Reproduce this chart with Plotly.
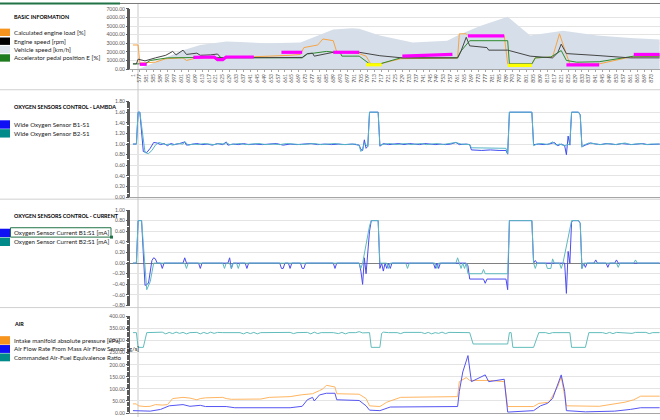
import plotly.graph_objects as go

W, H = 660, 420

# ---------------- axis categories / tick labels ----------------
categories = ["1"] + [str(n) for n in range(574, 879)]
tick_labels = ["1"] + [str(n) for n in range(577, 874, 4)]

# ---------------- BASIC INFORMATION ----------------
speed_x = [1, 576, 580, 593, 602, 612, 627, 635, 651, 670, 680, 689, 700, 704, 716, 735, 755, 761, 774, 784, 790, 803, 822, 842, 861, 878]
speed_y = [0, 0, 300, 1400, 2200, 2800, 3200, 3150, 3000, 3100, 3900, 4600, 4750, 4700, 3900, 3100, 3300, 3900, 5000, 5700, 6100, 3900, 4450, 3900, 3600, 3450]

load_x = [1, 575, 576, 577, 586, 592, 602, 604, 610, 625, 645, 652, 664, 670, 672, 680, 683, 689, 691, 704, 708, 711, 716, 728, 761, 762, 766, 767, 788, 790, 804, 806, 816, 820, 824, 826, 843, 848, 861, 878]
load_y = [2800, 2800, 2800, 700, 800, 1200, 1300, 1000, 1300, 1300, 1400, 1500, 1600, 1700, 2500, 2800, 3500, 3300, 2000, 1800, 1500, 500, 600, 1200, 1300, 4100, 4100, 3900, 3900, 600, 600, 1300, 1400, 4100, 1700, 600, 600, 800, 1400, 1500]

rpm_x = [1, 575, 576, 580, 586, 592, 596, 598, 602, 604, 610, 612, 618, 622, 624, 640, 660, 671, 674, 677, 678, 689, 700, 704, 716, 729, 761, 763, 766, 768, 778, 779, 790, 803, 816, 819, 821, 824, 840, 861, 878]
rpm_y = [600, 600, 1150, 950, 1300, 1600, 2050, 1650, 2200, 1700, 1850, 1600, 1650, 1750, 1300, 1300, 1300, 1350, 1800, 1850, 1500, 1950, 2000, 1950, 1550, 1300, 1300, 2100, 3700, 2700, 2500, 2200, 2200, 1500, 1300, 1900, 2900, 1800, 1600, 1300, 1300]

pedal_x = [1, 576, 580, 583, 593, 612, 640, 671, 674, 685, 693, 694, 704, 710, 716, 728, 761, 763, 768, 790, 791, 804, 806, 815, 821, 824, 830, 843, 863, 878]
pedal_y = [600, 600, 600, 1000, 1300, 1350, 1300, 1300, 1750, 2050, 1900, 1500, 1500, 600, 600, 1300, 1300, 2100, 3300, 3300, 600, 600, 1300, 1400, 2150, 1000, 800, 850, 1500, 1500]

magenta_x = [577, 581, None, 608, 620, 622, 625, 627, 643, None, 659, 671, None, 689, 704, None, 729, 745, 758, None, 767, 788, None, 824, 843, None, 863, 878]
magenta_y = [550, 550, None, 1350, 1400, 1100, 1100, 1400, 1400, None, 1950, 1950, None, 1950, 1950, None, 1500, 1600, 1700, None, 3870, 3870, None, 480, 480, None, 1700, 1700]

yellow_x = [708, 717, None, 790, 804]
yellow_y = [500, 500, None, 420, 420]

# ---------------- LAMBDA ----------------
lam1_x = [1, 575, 576, 577, 579, 581, 583, 585, 587, 589, 591, 593, 595, 597, 600, 603, 604, 607, 610, 613, 616, 619, 622, 625, 627, 628, 631, 634, 637, 640, 644, 648, 652, 656, 660, 664, 668, 672, 676, 680, 684, 688, 692, 696, 700, 704, 705, 706, 707, 708, 709, 710, 715, 716, 718, 721, 724, 727, 730, 733, 736, 739, 742, 745, 748, 751, 754, 757, 760, 762, 766, 768, 769, 775, 780, 785, 789, 790, 791, 804, 805, 808, 811, 814, 817, 819, 821, 823, 824, 825, 826, 827, 831, 832, 833, 835, 838, 841, 844, 847, 850, 853, 856, 859, 862, 865, 868, 871, 874, 878]
lam1_y = [1.0, 1.0, 1.6, 1.6, 0.86, 0.84, 0.92, 1.03, 1.02, 0.99, 1.01, 0.97, 1.01, 0.99, 1.01, 1.04, 0.98, 1.0, 1.01, 0.99, 1.0, 0.98, 1.01, 0.99, 1.04, 0.98, 1.0, 0.99, 1.01, 0.99, 1.0, 0.99, 1.0, 1.01, 0.98, 1.0, 0.99, 1.0, 1.01, 0.99, 1.0, 0.99, 1.0, 0.99, 1.0, 0.98, 0.9, 0.88, 1.08, 0.92, 0.96, 1.6, 1.6, 0.96, 1.01, 0.99, 1.0, 1.01, 0.99, 1.01, 1.0, 0.99, 1.01, 1.0, 0.99, 1.0, 0.99, 1.0, 1.03, 0.99, 1.0, 0.99, 0.89, 0.88, 0.89, 0.88, 0.88, 0.81, 1.6, 1.6, 0.99, 1.0, 0.99, 1.0, 1.03, 0.97, 1.0, 0.97, 0.8, 1.15, 0.98, 1.6, 1.6, 1.55, 0.95, 0.98, 1.02, 1.0, 0.99, 1.01, 1.0, 0.99, 1.01, 1.0, 0.99, 1.0, 1.01, 0.99, 1.0, 1.0]

lam2_x = [1, 575, 576, 577, 580, 582, 584, 586, 588, 590, 592, 594, 596, 599, 602, 603, 605, 608, 611, 614, 617, 620, 623, 626, 627, 629, 632, 635, 638, 642, 646, 650, 654, 658, 662, 666, 670, 674, 678, 682, 686, 690, 694, 698, 702, 704, 705, 706, 707, 709, 710, 715, 716, 719, 722, 725, 728, 731, 734, 737, 740, 743, 746, 749, 752, 755, 758, 760, 763, 767, 768, 769, 775, 780, 785, 789, 790, 791, 804, 805, 807, 810, 813, 816, 818, 820, 823, 826, 827, 831, 832, 833, 834, 837, 840, 843, 846, 849, 852, 855, 858, 861, 864, 867, 870, 873, 878]
lam2_y = [1.0, 1.0, 1.6, 1.6, 0.84, 0.82, 0.88, 0.98, 1.03, 1.01, 0.99, 1.0, 0.98, 1.01, 1.0, 1.05, 0.98, 1.0, 0.99, 1.01, 1.0, 0.99, 1.01, 1.0, 1.03, 0.99, 1.0, 1.01, 0.99, 1.0, 1.01, 0.99, 1.0, 0.99, 1.01, 1.0, 0.99, 1.0, 1.01, 0.99, 1.0, 1.01, 0.99, 1.0, 1.0, 0.97, 0.86, 0.9, 1.02, 0.95, 1.6, 1.6, 0.98, 1.0, 1.01, 0.99, 1.0, 1.01, 0.99, 1.0, 1.01, 0.99, 1.0, 1.01, 0.99, 1.0, 1.01, 1.03, 1.0, 1.0, 0.99, 0.93, 0.93, 0.92, 0.93, 0.92, 0.82, 1.6, 1.6, 0.97, 1.0, 1.01, 0.99, 1.04, 0.98, 1.0, 0.97, 1.0, 1.6, 1.6, 1.55, 0.94, 0.98, 1.02, 1.01, 0.99, 1.0, 1.01, 0.99, 1.0, 1.02, 0.99, 1.0, 1.01, 0.99, 1.0, 1.0]

# ---------------- CURRENT ----------------
cur1_x = [1, 575, 576, 578, 580, 582, 584, 585, 586, 587, 589, 590, 591, 602, 603, 604, 611, 612, 613, 628, 629, 630, 631, 638, 639, 640, 658, 659, 660, 661, 663, 664, 665, 670, 671, 672, 673, 689, 690, 691, 704, 705, 706, 707, 708, 710, 711, 715, 716, 717, 718, 719, 720, 721, 722, 723, 747, 748, 749, 750, 751, 766, 767, 768, 776, 777, 778, 789, 790, 791, 804, 805, 806, 807, 823, 824, 825, 826, 827, 828, 831, 832, 833, 834, 835, 836, 840, 841, 842, 847, 848, 849, 852, 853, 854, 878]
cur1_y = [0, 0, 0.8, 0.8, -0.42, -0.38, 0.05, 0.1, 0.08, 0.0, 0.0, -0.1, 0.0, 0.0, 0.1, 0.0, 0.0, -0.1, 0.0, 0.0, 0.1, -0.1, 0.0, 0.0, -0.1, 0.0, 0.0, -0.1, -0.1, 0.0, 0.0, -0.1, 0.0, 0.0, -0.1, -0.1, 0.0, 0.0, -0.1, 0.0, 0.0, -0.15, -0.4, 0.1, -0.2, 0.6, 0.8, 0.8, -0.1, 0.0, -0.15, 0.0, -0.1, 0.0, -0.1, 0.0, 0.0, -0.1, 0.0, -0.1, 0.0, 0.0, -0.05, -0.3, -0.3, -0.38, -0.3, -0.3, -0.5, 0.8, 0.8, 0.0, 0.05, 0.0, 0.0, -0.57, 0.22, 0.0, 0.78, 0.8, 0.8, 0.75, -0.1, 0.0, -0.08, 0.0, 0.0, 0.06, 0.0, 0.0, -0.08, 0.0, 0.0, 0.06, 0.0, 0.0]

cur2_x = [1, 575, 576, 578, 581, 583, 585, 603, 604, 605, 625, 626, 627, 629, 630, 631, 633, 634, 635, 704, 705, 706, 710, 711, 715, 716, 720, 721, 722, 731, 732, 733, 748, 749, 750, 760, 761, 762, 763, 764, 765, 766, 767, 775, 776, 777, 790, 791, 804, 805, 806, 807, 812, 813, 815, 816, 817, 820, 821, 822, 827, 831, 832, 833, 834, 853, 854, 855, 863, 864, 865, 878]
cur2_y = [0, 0, 0.8, 0.8, -0.5, -0.35, 0.0, 0.0, -0.1, 0.0, 0.0, -0.1, 0.0, 0.0, -0.1, 0.0, 0.0, -0.1, 0.0, 0.0, -0.1, 0.0, 0.7, 0.8, 0.8, 0.0, 0.0, -0.1, 0.0, 0.0, -0.1, 0.0, 0.0, -0.1, 0.0, 0.0, 0.1, 0.0, -0.1, 0.0, -0.1, 0.0, -0.2, -0.2, -0.12, -0.2, -0.2, 0.8, 0.8, 0.0, -0.1, 0.0, 0.0, -0.1, -0.1, 0.08, 0.0, 0.0, -0.1, 0.0, 0.8, 0.8, 0.75, -0.1, 0.0, 0.0, -0.08, 0.0, 0.0, 0.06, 0.0, 0.0]

# ---------------- AIR ----------------
afr_x = [1, 575, 576, 579, 581, 590, 592, 594, 596, 598, 600, 602, 604, 606, 610, 612, 614, 616, 618, 620, 622, 625, 635, 637, 639, 641, 643, 645, 647, 651, 660, 664, 666, 668, 674, 676, 678, 680, 682, 689, 692, 694, 696, 698, 702, 704, 706, 710, 711, 716, 717, 718, 721, 726, 728, 730, 740, 742, 744, 746, 748, 750, 752, 754, 756, 760, 768, 770, 790, 791, 792, 793, 805, 808, 812, 814, 816, 826, 827, 835, 837, 845, 847, 849, 851, 853, 860, 862, 864, 866, 870, 872, 874, 878]
afr_y = [333, 333, 272, 272, 333, 335, 328, 334, 329, 335, 330, 334, 328, 333, 334, 328, 334, 329, 335, 330, 334, 333, 333, 328, 334, 329, 334, 328, 333, 333, 333, 334, 329, 333, 334, 328, 335, 329, 333, 333, 329, 334, 328, 333, 333, 337, 332, 333, 272, 272, 330, 335, 333, 333, 329, 334, 334, 329, 334, 328, 333, 330, 335, 329, 334, 333, 333, 286, 286, 333, 333, 272, 272, 333, 333, 329, 333, 333, 272, 272, 333, 333, 329, 334, 329, 334, 333, 330, 334, 333, 334, 329, 333, 333]

map_x = [1, 575, 576, 580, 583, 586, 590, 593, 596, 602, 606, 610, 612, 615, 625, 627, 630, 647, 652, 664, 671, 677, 681, 683, 685, 690, 691, 704, 708, 710, 716, 720, 728, 761, 762, 766, 768, 780, 788, 790, 805, 808, 814, 819, 821, 823, 824, 843, 849, 858, 863, 867, 878]
map_y = [38, 38, 30, 27, 28, 35, 33, 35, 60, 65, 62, 55, 60, 63, 65, 60, 57, 58, 65, 68, 76, 80, 93, 100, 115, 108, 80, 78, 60, 30, 27, 45, 65, 68, 130, 147, 135, 135, 130, 27, 27, 40, 45, 110, 150, 80, 30, 28, 35, 45, 55, 70, 70]

maf_x = [1, 575, 576, 583, 589, 594, 602, 606, 612, 615, 627, 632, 664, 671, 674, 677, 678, 681, 685, 690, 691, 704, 708, 710, 716, 720, 722, 761, 762, 764, 767, 769, 777, 779, 788, 790, 805, 809, 813, 816, 821, 823, 824, 835, 852, 861, 867, 878]
maf_y = [10, 10, 8, 8, 15, 30, 35, 28, 32, 27, 27, 22, 22, 28, 55, 65, 50, 75, 82, 82, 55, 52, 30, 12, 10, 20, 25, 27, 90, 170, 238, 130, 158, 130, 140, 4, 10, 30, 40, 60, 158, 90, 10, 5, 8, 15, 22, 22]


def cx(xs):
    return [str(v) if v is not None else None for v in xs]


def py(y):
    return 1 - y / H


def px(x):
    return x / W


fig = go.Figure()

# panel 1
fig.add_trace(go.Scatter(x=cx(speed_x), y=speed_y, mode="lines", fill="tozeroy",
                         line=dict(width=0, color="#D6DFE9"), fillcolor="#D6DFE9",
                         xaxis="x", yaxis="y", name="Vehicle speed [km/h]"))
fig.add_trace(go.Scatter(x=cx(load_x), y=load_y, mode="lines", line=dict(width=1, color="#F7A443"),
                         xaxis="x", yaxis="y", name="Calculated engine load [%]"))
fig.add_trace(go.Scatter(x=cx(pedal_x), y=pedal_y, mode="lines", line=dict(width=1, color="#2F8A2F"),
                         xaxis="x", yaxis="y", name="Accelerator pedal position E [%]"))
fig.add_trace(go.Scatter(x=cx(rpm_x), y=rpm_y, mode="lines", line=dict(width=1, color="#454545"),
                         xaxis="x", yaxis="y", name="Engine speed [rpm]"))
fig.add_trace(go.Scatter(x=cx(magenta_x), y=magenta_y, mode="lines", line=dict(width=3.2, color="#FF00FF"),
                         connectgaps=False, xaxis="x", yaxis="y", name="m"))
fig.add_trace(go.Scatter(x=cx(yellow_x), y=yellow_y, mode="lines", line=dict(width=3.2, color="#FFFF00"),
                         connectgaps=False, xaxis="x", yaxis="y", name="yel"))

# panel 2
fig.add_trace(go.Scatter(x=cx(lam1_x), y=lam1_y, mode="lines", line=dict(width=1, color="#3D4BF2"),
                         xaxis="x2", yaxis="y2", name="Wide Oxygen Sensor B1-S1"))
fig.add_trace(go.Scatter(x=cx(lam2_x), y=lam2_y, mode="lines", line=dict(width=1, color="#55B4C4"),
                         xaxis="x2", yaxis="y2", name="Wide Oxygen Sensor B2-S1"))

# panel 3
fig.add_trace(go.Scatter(x=cx(cur1_x), y=cur1_y, mode="lines", line=dict(width=1, color="#4B4BF0"),
                         xaxis="x3", yaxis="y3", name="Oxygen Sensor Current B1:S1 [mA]"))
fig.add_trace(go.Scatter(x=cx(cur2_x), y=cur2_y, mode="lines", line=dict(width=1, color="#5CB9BE"),
                         xaxis="x3", yaxis="y3", name="Oxygen Sensor Current B2:S1 [mA]"))

# panel 4
fig.add_trace(go.Scatter(x=cx(afr_x), y=afr_y, mode="lines", line=dict(width=1, color="#62BCBC"),
                         xaxis="x4", yaxis="y4", name="Commanded Air-Fuel Equivalence Ratio"))
fig.add_trace(go.Scatter(x=cx(map_x), y=map_y, mode="lines", line=dict(width=1, color="#FFB561"),
                         xaxis="x4", yaxis="y4", name="Intake manifold absolute pressure [kPa]"))
fig.add_trace(go.Scatter(x=cx(maf_x), y=maf_y, mode="lines", line=dict(width=1, color="#5555F2"),
                         xaxis="x4", yaxis="y4", name="Air Flow Rate From Mass Air Flow Sensor [g/s]"))

tickfont = dict(family="Lato", size=5, color="#595959")
xdom = [px(130), 1.0]
xrange = [-1.7, 305.2]


def xaxis(anchor, show_labels, showline, matches=None):
    d = dict(type="category", categoryorder="array", categoryarray=categories,
             range=xrange, domain=xdom, anchor=anchor, showgrid=False, zeroline=False,
             showline=showline, linecolor="#A6A6A6", linewidth=1,
             tickmode="array", tickvals=tick_labels, ticktext=tick_labels,
             showticklabels=show_labels, tickangle=-90, tickfont=tickfont,
             ticks="outside" if show_labels else "", ticklen=2, tickcolor="#A6A6A6")
    if matches:
        d["matches"] = matches
    return d


def yaxis(dom, rng, dtick, zeroline=False):
    return dict(domain=dom, range=rng, dtick=dtick, tick0=0, tickformat=".2f",
                showline=True, linecolor="#595959", linewidth=1,
                ticks="outside", ticklen=3, tickcolor="#595959",
                minor=dict(ticks="outside", ticklen=2, tickcolor="#595959", dtick=dtick / 10, showgrid=False),
                showgrid=True, gridcolor="#E4E4E4", gridwidth=1,
                zeroline=zeroline, zerolinecolor="#808080", zerolinewidth=1,
                tickfont=tickfont, fixedrange=True)


layout = dict(
    width=W, height=H, margin=dict(l=0, r=0, t=0, b=0),
    paper_bgcolor="white", plot_bgcolor="rgba(0,0,0,0)", showlegend=False,
    hovermode=False,
    xaxis=xaxis("y", True, True),
    xaxis2=xaxis("y2", False, True, "x"),
    xaxis3=xaxis("y3", False, False, "x"),
    xaxis4=xaxis("y4", False, True, "x"),
    yaxis=yaxis([py(67), py(6)], [0, 7000], 1000),
    yaxis2=yaxis([py(197), py(100)], [0, 1.8], 0.2),
    yaxis3=yaxis([py(307), py(210)], [-0.8, 1.0], 0.2, zeroline=True),
    yaxis4=yaxis([py(416), py(318)], [0, 400], 50),
)
fig.update_layout(**layout)

shapes = []
# sheet cell borders
for yy in [88, 199, 309]:
    shapes.append(dict(type="line", xref="paper", yref="paper", x0=0, x1=1, y0=py(yy), y1=py(yy),
                       line=dict(color="#D0D0D0", width=1), layer="below"))
shapes.append(dict(type="line", xref="paper", yref="paper", x0=px(138), x1=px(138), y0=0, y1=1,
                   line=dict(color="#C8C8C8", width=1), layer="below"))
shapes.append(dict(type="line", xref="paper", yref="paper", x0=0, x1=px(120), y0=py(0.5), y1=py(0.5),
                   line=dict(color="#217346", width=2)))
shapes.append(dict(type="line", xref="paper", yref="paper", x0=px(120), x1=1, y0=py(0.5), y1=py(0.5),
                   line=dict(color="#7A7A7A", width=1)))

annotations = []
title_font = dict(family="Lato", size=5.4, color="#000000")
item_font = dict(family="Lato", size=6.2, color="#1A1A1A")


def title(text, y):
    annotations.append(dict(text="<b>%s</b>" % text, x=px(12), y=py(y), xref="paper", yref="paper",
                            xanchor="left", yanchor="middle", showarrow=False, font=title_font))


def item(text, color, y0, y1):
    shapes.append(dict(type="rect", xref="paper", yref="paper", x0=0, x1=px(10), y0=py(y1), y1=py(y0),
                       fillcolor=color, line=dict(width=0)))
    annotations.append(dict(text=text, x=px(12), y=py((y0 + y1) / 2), xref="paper", yref="paper",
                            xanchor="left", yanchor="middle", showarrow=False, font=item_font))


title("BASIC INFORMATION", 14)
item("Calculated engine load [%]", "#F7941D", 26, 33.5)
item("Engine speed [rpm]", "#000000", 35, 42.5)
item("Vehicle speed [km/h]", "#DCE3EA", 43.5, 51)
item("Accelerator pedal position E [%]", "#1E7B1E", 52, 59.5)

title("OXYGEN SENSORS CONTROL - LAMBDA", 105.7)
item("Wide Oxygen Sensor B1-S1", "#1010F5", 119, 127.5)
item("Wide Oxygen Sensor B2-S1", "#008A8A", 128, 136.5)

title("OXYGEN SENSORS CONTROL - CURRENT", 215.7)
item("Oxygen Sensor Current B1:S1 [mA]", "#1010F5", 229, 237.5)
item("Oxygen Sensor Current B2:S1 [mA]", "#008A8A", 238, 246.5)
shapes.append(dict(type="rect", xref="paper", yref="paper", x0=px(10.5), x1=px(111), y0=py(237.5), y1=py(228),
                   line=dict(color="#217346", width=1)))
shapes.append(dict(type="rect", xref="paper", yref="paper", x0=px(110), x1=px(113), y0=py(239), y1=py(236),
                   fillcolor="#217346", line=dict(width=0)))

title("AIR", 325.7)
item("Intake manifold absolute pressure [kPa]", "#F7941D", 338, 346.5)
item("Air Flow Rate From Mass Air Flow Sensor [g/s]", "#1010F5", 347, 355)
item("Commanded Air-Fuel Equivalence Ratio", "#008A8A", 355.5, 363.5)

fig.update_layout(shapes=shapes, annotations=annotations)
fig.write_html("out.html", config={"displayModeBar": False, "staticPlot": True},
               post_script="document.body.style.margin='0px';document.body.style.overflow='hidden';")
